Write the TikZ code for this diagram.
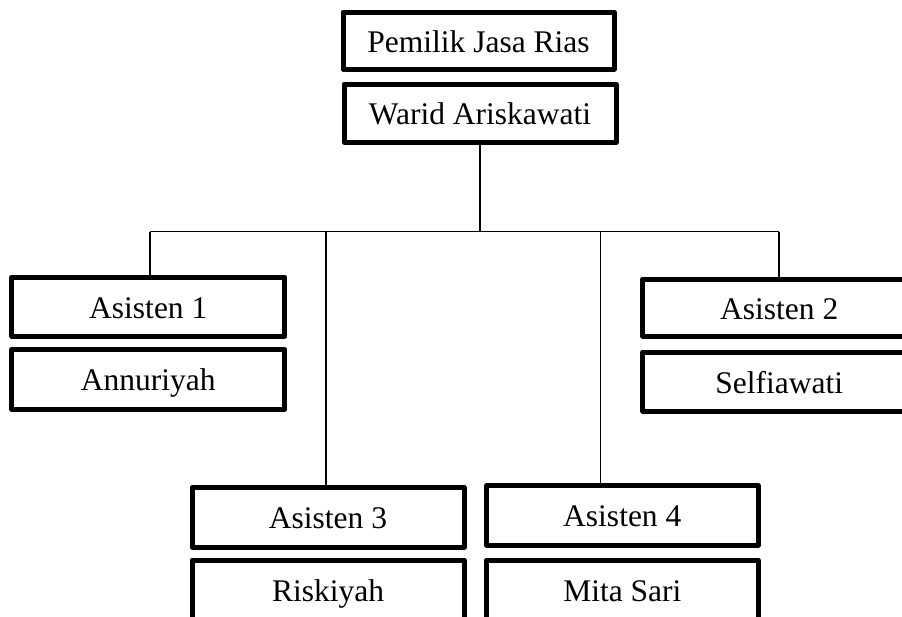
\documentclass[tikz,border=0pt]{standalone}
\usepackage{fontspec}
\setmainfont{Liberation Serif}
\begin{document}
\begin{tikzpicture}[x=1pt,y=-1pt,
  orgbox/.style={draw=black, line width=5pt, line join=round, rectangle, inner sep=0pt,
    text height=28pt, text depth=5pt,
    minimum width=272pt, minimum height=58pt, font=\fontsize{31.5}{36}\selectfont},
  link/.style={draw=black, line width=1.5pt}]
\useasboundingbox (0,0) rectangle (902,616);
\clip (0,0) rectangle (902,616);
% top
\node[orgbox, minimum width=271pt, minimum height=57pt] (own) at (478.5,40.5) {Pemilik Jasa Rias};
\node[orgbox, minimum height=58pt] (warid) at (480,113) {Warid Ariskawati};
% row 1
\node[orgbox, minimum width=273pt, minimum height=59pt] (a1) at (148.3,306.5) {Asisten 1};
\node[orgbox, minimum width=273pt, minimum height=59.5pt] (n1) at (148.3,379.3) {Annuriyah};
\node[orgbox, minimum width=273pt, minimum height=57pt] (a2) at (779.2,307.5) {Asisten 2};
\node[orgbox, minimum width=273pt, minimum height=59pt] (n2) at (779.2,381.5) {Selfiawati};
% row 2
\node[orgbox, minimum height=59.5pt] (a3) at (328,517.3) {Asisten 3};
\node[orgbox, minimum height=59pt] (n3) at (328,589.5) {Riskiyah};
\node[orgbox, minimum width=271.5pt, minimum height=59.5pt] (a4) at (622.3,515.3) {Asisten 4};
\node[orgbox, minimum width=271.5pt, minimum height=59pt] (n4) at (622.3,589.5) {Mita Sari};
% connectors
\coordinate (bus) at (480,231.7);
\coordinate (busL) at (150,231.7);
\coordinate (busR) at (779.2,231.7);
\coordinate (bus3) at (326,231.7);
\coordinate (bus4) at (600.5,231.7);
\draw[link] (warid.south) -- (bus);
\draw[link] (busL) -- (busR);
\draw[link] (busL) -- (busL |- a1.north);
\draw[link] (busR) -- (a2.north);
\draw[link] (bus3) -- (bus3 |- a3.north);
\draw[link] (bus4) -- (bus4 |- a4.north);
\end{tikzpicture}
\end{document}
